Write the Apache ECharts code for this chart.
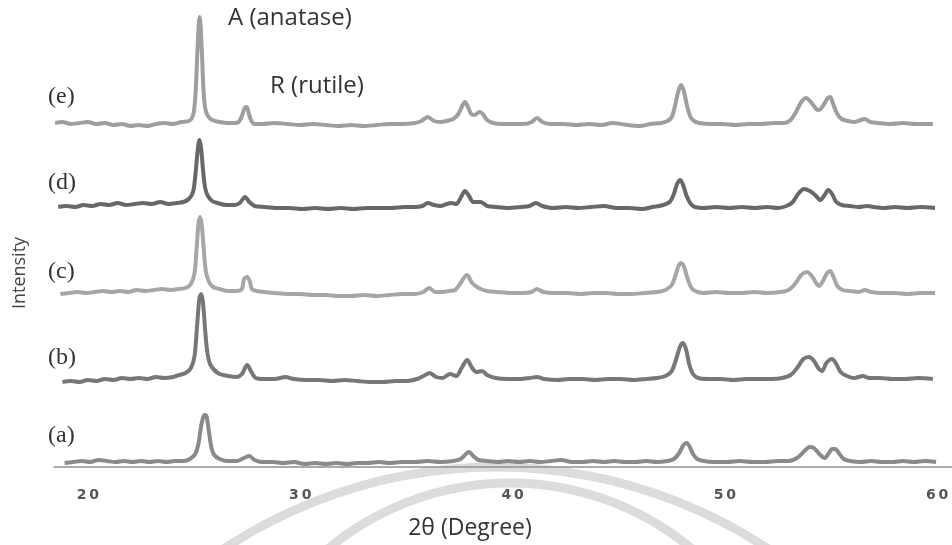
<!DOCTYPE html>
<html>
<head>
    <meta charset="UTF-8">
    <title>XRD</title>
</head>
<style>
    html,body{margin:0;padding:0;background:#fff;}
    #chart{width:952px;height:545px;}
</style>
<body>
<div id="chart"></div>
<script src="https://cdn.jsdelivr.net/npm/echarts@6/dist/echarts.min.js"></script>
<script>
    // sample names, bottom to top
    var sampleNames = ['(a)', '(b)', '(c)', '(d)', '(e)'];
    // vertical offset of each pattern (stacked plot)
    var offsets = [5, 89, 174, 259, 343];
    var xTicks = [20, 30, 40, 50, 60];

    // [2theta, intensity above baseline]
    var traceA = [[18.9,-1],[19.3,0],[19.7,1],[20.1,0],[20.5,2],[20.9,1],[21.3,0],[21.7,1],[22.1,0],[22.5,1],[22.9,0],[23.3,1],[23.7,0],[24.1,1],[24.5,1],[24.8,3],[25.05,8],[25.2,18],[25.35,38],[25.48,47],[25.58,46],[25.7,30],[25.82,14],[25.95,7],[26.2,3],[26.6,1],[27.0,1],[27.35,4],[27.6,6],[27.85,2],[28.2,0],[28.7,0],[29.2,-1],[29.7,0],[30.2,-2],[30.7,-1],[31.2,-2],[31.7,-1],[32.2,-2],[32.7,-1],[33.2,-1],[33.7,0],[34.2,-1],[34.8,0],[35.4,0],[36.0,1],[36.6,0],[37.2,1],[37.55,3],[37.8,8],[37.95,10],[38.15,6],[38.4,2],[38.8,1],[39.3,0],[39.8,1],[40.3,0],[40.8,1],[41.3,0],[41.8,1],[42.3,2],[42.8,0],[43.3,0],[43.8,1],[44.3,0],[44.8,1],[45.3,0],[45.8,0],[46.3,1],[46.8,0],[47.3,1],[47.6,3],[47.85,9],[48.05,17],[48.2,19],[48.35,15],[48.5,8],[48.7,3],[49.0,1],[49.5,0],[50.1,0],[50.7,1],[51.3,0],[51.9,0],[52.5,1],[53.0,1],[53.4,4],[53.75,11],[54.0,15],[54.2,14],[54.45,8],[54.7,4],[54.9,9],[55.05,13],[55.2,13],[55.4,8],[55.6,3],[55.9,1],[56.4,0],[56.9,1],[57.4,0],[57.9,0],[58.4,1],[58.9,0],[59.4,1],[59.95,0]];
    var traceB = [[18.8,-4],[19.2,-3],[19.6,-4],[20.0,-2],[20.4,-3],[20.8,-1],[21.2,-2],[21.6,0],[22.0,-1],[22.4,0],[22.8,-1],[23.2,1],[23.6,0],[24.0,1],[24.3,3],[24.6,5],[24.85,10],[25.02,22],[25.15,55],[25.25,80],[25.33,84],[25.42,75],[25.52,48],[25.62,26],[25.75,14],[25.95,8],[26.2,4],[26.6,2],[27.0,1],[27.25,4],[27.5,13],[27.7,6],[27.9,0],[28.3,-1],[28.8,-1],[29.3,1],[29.7,-1],[30.3,-2],[30.9,-2],[31.5,-3],[32.1,-2],[32.7,-3],[33.3,-4],[33.9,-4],[34.5,-3],[35.0,-3],[35.5,-1],[35.8,2],[36.1,5],[36.4,1],[36.7,0],[37.05,4],[37.35,2],[37.6,10],[37.86,18],[38.1,10],[38.3,6],[38.56,7],[38.8,3],[39.2,0],[39.8,-1],[40.4,-1],[40.8,0],[41.15,1],[41.5,-1],[42.1,-2],[42.7,-1],[43.3,-1],[43.9,-2],[44.5,-1],[45.1,-1],[45.7,-2],[46.3,-1],[46.8,0],[47.2,2],[47.5,7],[47.75,22],[47.9,32],[48.03,35],[48.18,28],[48.32,14],[48.5,4],[48.75,0],[49.2,-1],[49.8,-1],[50.4,-2],[51.0,-1],[51.6,-1],[52.2,-1],[52.7,0],[53.1,3],[53.4,10],[53.7,19],[53.97,21],[54.2,17],[54.4,10],[54.58,7],[54.78,15],[55.05,19],[55.25,14],[55.45,6],[55.75,2],[56.1,0],[56.5,2],[56.8,0],[57.3,0],[57.9,-1],[58.5,-1],[59.1,0],[59.8,-1]];
    var traceC = [[18.7,-1],[19.1,0],[19.5,1],[19.9,0],[20.3,1],[20.7,2],[21.1,1],[21.5,2],[21.9,1],[22.3,3],[22.7,2],[23.1,3],[23.5,4],[23.9,3],[24.3,4],[24.6,5],[24.85,9],[25.02,20],[25.12,45],[25.2,68],[25.28,76],[25.36,68],[25.45,45],[25.55,22],[25.7,11],[25.9,6],[26.2,4],[26.6,2],[27.0,2],[27.25,4],[27.35,14],[27.5,16],[27.62,12],[27.72,4],[27.95,2],[28.3,1],[28.8,0],[29.4,-1],[30.0,-1],[30.6,-2],[31.2,-2],[31.8,-3],[32.4,-3],[33.0,-2],[33.6,-3],[34.2,-2],[34.8,-1],[35.4,-1],[35.8,1],[36.07,5],[36.35,1],[36.7,1],[37.0,2],[37.3,3],[37.55,10],[37.85,18],[38.1,10],[38.4,5],[38.8,2],[39.3,1],[39.9,0],[40.5,0],[40.9,1],[41.15,4],[41.45,1],[42.0,0],[42.6,0],[43.2,-1],[43.8,0],[44.4,0],[45.0,-1],[45.6,-1],[46.2,0],[46.8,1],[47.2,3],[47.5,8],[47.68,18],[47.82,27],[47.94,30],[48.08,26],[48.22,16],[48.4,6],[48.6,2],[49.0,0],[49.6,1],[50.2,0],[50.8,0],[51.4,1],[52.0,0],[52.6,1],[53.0,3],[53.3,9],[53.6,18],[53.87,21],[54.1,17],[54.3,10],[54.44,7],[54.62,12],[54.82,20],[54.96,22],[55.12,16],[55.3,7],[55.55,3],[55.9,2],[56.3,1],[56.6,3],[56.9,1],[57.4,0],[58.0,0],[58.6,-1],[59.2,0],[59.9,0]];
    var traceD = [[18.6,1],[19.0,2],[19.4,1],[19.8,3],[20.2,2],[20.6,4],[21.0,3],[21.4,5],[21.8,3],[22.2,4],[22.6,5],[23.0,4],[23.4,6],[23.8,4],[24.2,5],[24.5,6],[24.75,9],[24.95,16],[25.07,35],[25.17,58],[25.25,68],[25.33,60],[25.42,38],[25.52,20],[25.65,12],[25.85,7],[26.1,5],[26.5,3],[26.9,3],[27.15,5],[27.4,11],[27.6,6],[27.85,2],[28.3,1],[28.9,0],[29.5,0],[30.1,-1],[30.7,0],[31.3,-1],[31.9,0],[32.5,-1],[33.1,0],[33.7,0],[34.3,0],[34.9,1],[35.4,1],[35.75,2],[36.0,5],[36.3,3],[36.6,2],[36.9,4],[37.1,5],[37.35,4],[37.55,10],[37.76,17],[37.95,12],[38.15,6],[38.5,6],[38.8,2],[39.2,1],[39.8,0],[40.4,1],[40.8,2],[41.1,5],[41.4,2],[41.9,0],[42.5,1],[43.1,0],[43.7,1],[44.3,2],[44.9,0],[45.5,0],[46.1,-1],[46.6,1],[47.1,3],[47.4,6],[47.6,14],[47.75,24],[47.9,28],[48.05,22],[48.2,12],[48.4,4],[48.6,1],[49.0,0],[49.6,1],[50.2,0],[50.8,1],[51.4,0],[52.0,1],[52.5,0],[52.9,2],[53.2,6],[53.45,14],[53.73,19],[54.0,17],[54.25,13],[54.5,8],[54.7,13],[54.87,18],[55.05,14],[55.25,6],[55.5,3],[55.9,2],[56.3,1],[56.7,2],[57.0,1],[57.5,0],[58.0,1],[58.6,0],[59.2,1],[59.9,0]];
    var traceE = [[18.45,1],[18.8,2],[19.2,0],[19.6,1],[20.0,2],[20.4,0],[20.8,1],[21.2,-1],[21.6,0],[22.0,-2],[22.4,-1],[22.8,-2],[23.2,0],[23.6,1],[24.0,0],[24.4,2],[24.75,3],[24.9,6],[25.0,14],[25.08,35],[25.15,70],[25.22,100],[25.26,107],[25.3,100],[25.37,70],[25.44,35],[25.52,16],[25.65,8],[25.85,4],[26.2,2],[26.6,1],[26.9,1],[27.1,2],[27.25,8],[27.38,16],[27.48,17],[27.58,10],[27.7,3],[27.85,0],[28.2,0],[28.8,1],[29.4,0],[30.0,-1],[30.6,0],[31.2,-1],[31.8,-2],[32.4,-1],[33.0,-2],[33.6,-1],[34.2,0],[34.8,0],[35.4,1],[35.7,3],[36.0,7],[36.3,3],[36.6,2],[36.9,3],[37.2,5],[37.45,10],[37.65,19],[37.76,22],[37.9,17],[38.05,10],[38.2,9],[38.45,12],[38.6,10],[38.8,4],[39.1,1],[39.5,0],[40.0,0],[40.5,0],[40.9,2],[41.15,6],[41.4,2],[41.8,0],[42.4,0],[43.0,-1],[43.6,0],[44.2,-1],[44.7,1],[45.4,-1],[46.0,-2],[46.5,0],[47.0,1],[47.3,3],[47.5,7],[47.65,18],[47.8,32],[47.94,39],[48.08,32],[48.22,18],[48.38,7],[48.55,3],[48.8,1],[49.3,0],[49.9,0],[50.5,-1],[51.1,0],[51.7,0],[52.3,1],[52.8,1],[53.1,4],[53.35,12],[53.6,22],[53.83,26],[54.05,22],[54.3,15],[54.44,14],[54.65,19],[54.85,26],[54.96,27],[55.1,20],[55.3,10],[55.5,5],[55.8,3],[56.1,2],[56.4,4],[56.6,5],[56.85,2],[57.2,1],[57.8,0],[58.4,1],[59.0,0],[59.8,0]];

    var traces = [traceA, traceB, traceC, traceD, traceE];
    var lineColors = ['#8a8a8a', '#777777', '#a6a6a6', '#686868', '#9e9e9e'];

    var series = traces.map(function (t, i) {
        return {
            name: sampleNames[i],
            type: 'line',
            showSymbol: false,
            smooth: 0.3,
            silent: true,
            lineStyle: {color: lineColors[i], width: 4},
            data: t.map(function (p) { return [p[0], p[1] + offsets[i]]; })
        };
    });

    var labelY = [436, 358, 272, 183, 97];
    var graphics = [
        // faint watermark rings of the scanned page
        {type: 'arc', z: -1, shape: {cx: 496, cy: 960, r: 493, startAngle: Math.PI, endAngle: 2 * Math.PI},
            style: {stroke: '#dcdcdc', lineWidth: 9, fill: null}},
        {type: 'arc', z: -1, shape: {cx: 510, cy: 767, r: 284, startAngle: Math.PI, endAngle: 2 * Math.PI},
            style: {stroke: '#dcdcdc', lineWidth: 9, fill: null}},
        {type: 'text', left: 228, top: 6, style: {text: 'A (anatase)', fontFamily: 'Open Sans', fontSize: 24, fill: '#333'}},
        {type: 'text', left: 270, top: 74, style: {text: 'R (rutile)', fontFamily: 'Open Sans', fontSize: 24, fill: '#333'}},
        {type: 'text', x: 470, y: 528, style: {text: '2θ (Degree)', fontFamily: 'Open Sans', fontSize: 23, fill: '#333', align: 'center', verticalAlign: 'middle'}},
        {type: 'text', x: 20, y: 273, rotation: Math.PI / 2, style: {text: 'Intensity', fontFamily: 'Open Sans', fontSize: 18, fill: '#444', align: 'center', verticalAlign: 'middle'}}
    ];
    sampleNames.forEach(function (n, i) {
        graphics.push({type: 'text', x: 48, y: labelY[i],
            style: {text: n, fontFamily: 'Liberation Serif', fontSize: 24, fill: '#333', verticalAlign: 'middle'}});
    });

    var chart = echarts.init(document.getElementById('chart'));
    chart.setOption({
        animation: false,
        backgroundColor: '#fff',
        grid: {left: 54, right: 0, top: 7, bottom: 78},
        xAxis: {
            type: 'value',
            min: 18.4,
            max: 60.7,
            axisLine: {lineStyle: {color: '#8f8f8f', width: 1.5}},
            axisTick: {show: false},
            splitLine: {show: false},
            axisLabel: {
                customValues: xTicks,
                margin: 21,
                color: '#555',
                fontFamily: 'DejaVu Sans',
                fontWeight: 'bold',
                fontSize: 14,
                hideOverlap: false,
                formatter: function (v) { return String(v).split('').join('\u2009'); }
            }
        },
        yAxis: {
            type: 'value',
            min: 0,
            max: 460,
            show: false
        },
        graphic: graphics,
        series: series
    });
</script>
</body>
</html>
